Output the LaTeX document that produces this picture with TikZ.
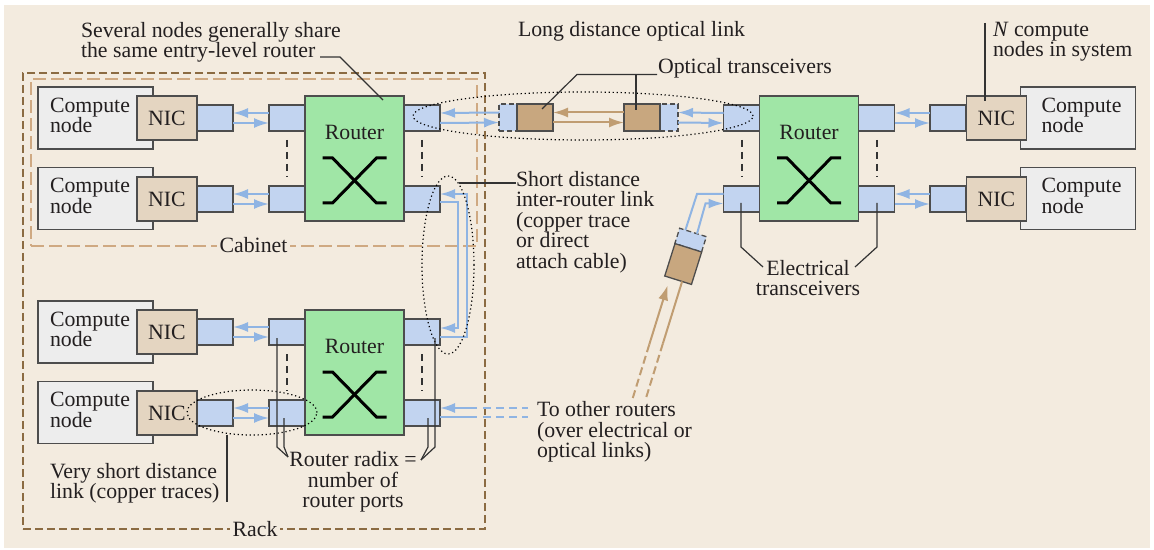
\documentclass[tikz,border=0pt]{standalone}
\usepackage{fontspec}
\setmainfont{Liberation Serif}
\usetikzlibrary{shapes.geometric,arrows.meta,calc}
\definecolor{bgc}{HTML}{F3EBDF}
\definecolor{cgray}{HTML}{EDEDED}
\definecolor{nicc}{HTML}{E4D5C1}
\definecolor{portc}{HTML}{C2D4F0}
\definecolor{routc}{HTML}{A0E6A6}
\definecolor{brownc}{HTML}{C8A77F}
\definecolor{arrb}{HTML}{8FB4E3}
\definecolor{arrbr}{HTML}{C09D72}
\definecolor{rackc}{HTML}{8B6B42}
\definecolor{cabc}{HTML}{CFA982}
\definecolor{boxline}{HTML}{4D4D4D}
\definecolor{txtc}{HTML}{231F20}
\definecolor{leadc}{HTML}{333333}
\newcommand\bidir[3]{%
  \draw[#3] ($(#2.west)+(0,-5)$) -- ($(#1.east)+(0,-5)$);
  \draw[#3] ($(#1.east)+(0,5)$) -- ($(#2.west)+(0,5)$);}
\newcommand\xcross[1]{%
  \draw[xc] ($(#1.center)+(-32,-0.5)$) -- ++(10,0) -- ++(44,45) -- ++(10,0);
  \draw[xc] ($(#1.center)+(-32,44.5)$) -- ++(10,0) -- ++(44,-45) -- ++(10,0);}
\begin{document}
\begin{tikzpicture}[x=0.5pt,y=-0.5pt,
  font=\fontsize{10.9pt}{10.2pt}\selectfont,
  every node/.style={text=txtc},
  box/.style={draw=boxline, line width=0.65pt, inner sep=0pt, outer sep=0pt},
  compute/.style={box, fill=cgray, minimum width=57.5pt, minimum height=31pt},
  nic/.style={box, fill=nicc, minimum width=30pt, minimum height=22pt},
  port/.style={box, fill=portc, minimum width=18pt, minimum height=13pt},
  router/.style={box, fill=routc, minimum width=49.5pt, minimum height=62.5pt},
  obox/.style={box, fill=brownc, minimum width=18pt, minimum height=13.5pt},
  oblue/.style={box, fill=portc, dashed, dash pattern=on 2.5pt off 1.5pt, minimum width=9pt, minimum height=13.5pt},
  txt/.style={inner sep=0pt, outer sep=0pt},
  tip/.style={-{Latex[length=7.5pt,width=5pt]}},
  bline/.style={draw=arrb, line width=1pt},
  barrow/.style={bline, tip},
  brline/.style={draw=arrbr, line width=1pt},
  brarrow/.style={brline, tip},
  xc/.style={draw=black, line width=1.5pt},
  vdash/.style={draw=leadc, line width=1pt, dash pattern=on 3.5pt off 2.5pt},
  leader/.style={draw=leadc, line width=0.6pt},
  dotell/.style={draw=black, ellipse, line width=0.6pt, dash pattern=on 0.6pt off 1.4pt, inner sep=0pt},
  rackst/.style={draw=rackc, line width=0.75pt, dash pattern=on 4pt off 2pt, inner sep=0pt},
  cabst/.style={draw=cabc, line width=0.9pt, dash pattern=on 6.5pt off 2.5pt, inner sep=0pt},
  dlabel/.style={txt, fill=bgc, inner xsep=1.5pt}
]
\useasboundingbox (0,0) rectangle (1154,550);
\fill[white] (0,0) rectangle (1154,550);
\fill[bgc] (4,5) rectangle (1150,548);

% rack and cabinet
\node[rackst, minimum width=231pt, minimum height=228pt] (rack) at (254,301) {};
\node[cabst, minimum width=223pt, minimum height=83.35pt] (cab) at (254,162.35) {};
\node[dlabel] (cabt) at (253.5,245) {Cabinet};
\node[dlabel] (rackt) at (255,529) {Rack};

% ---------- upper left group ----------
\node[compute] (c1) at (95.5,118) {};
\node[nic] (n1) at (167,118) {NIC};
\node[port] (p1) at (215,118) {};
\node[router] (R1) at (354.5,158.5) {};
\node[port] (r1a) at (287,118) {};
\node[port] (r1c) at (422,118) {};
\node[port] (r1b) at (287,199) {};
\node[port] (r1d) at (422,199) {};
\node[compute] (c2) at (95.5,198.5) {};
\node[nic] (n2) at (167,199) {NIC};
\node[port] (p2) at (215,199) {};
\node[txt, anchor=west, align=left] (c1t) at ($(c1.west)+(12,-2.5)$) {Compute\\node};
\node[txt, anchor=west, align=left] (c2t) at ($(c2.west)+(12,-2.5)$) {Compute\\node};
\node[txt] (R1t) at ($(R1.center)+(0,-26.5)$) {Router};
\xcross{R1}

% ---------- lower left group ----------
\node[compute] (c3) at (95.5,332) {};
\node[nic] (n3) at (167,332) {NIC};
\node[port] (p3) at (215,332) {};
\node[router] (R3) at (354.5,372.5) {};
\node[port] (r3a) at (287,332) {};
\node[port] (r3c) at (422,332) {};
\node[port] (r3b) at (287,413) {};
\node[port] (r3d) at (422,413) {};
\node[compute] (c4) at (95.5,412.5) {};
\node[nic] (n4) at (167,413) {NIC};
\node[port] (p4) at (215,413) {};
\node[txt, anchor=west, align=left] (c3t) at ($(c3.west)+(12,-2.5)$) {Compute\\node};
\node[txt, anchor=west, align=left] (c4t) at ($(c4.west)+(12,-2.5)$) {Compute\\node};
\node[txt] (R3t) at ($(R3.center)+(0,-26.5)$) {Router};
\xcross{R3}

% ---------- right group ----------
\node[router] (RR) at (809,158.5) {};
\node[port] (rra) at (741.5,118) {};
\node[port] (rrb) at (741.5,199) {};
\node[port] (rrc) at (876.5,118) {};
\node[port] (rrd) at (876.5,199) {};
\node[port] (q1) at (948,118) {};
\node[port] (q2) at (948,199) {};
\node[compute] (c5) at (1078,118) {};
\node[compute] (c6) at (1078,198.5) {};
\node[nic] (m1) at (996.5,118) {NIC};
\node[nic] (m2) at (996.5,199) {NIC};
\node[txt, anchor=west, align=left] (c5t) at ($(c5.west)+(21,-2.5)$) {Compute\\node};
\node[txt, anchor=west, align=left] (c6t) at ($(c6.west)+(21,-2.5)$) {Compute\\node};
\node[txt] (RRt) at ($(RR.center)+(0,-26.5)$) {Router};
\xcross{RR}

% ---------- optical link ----------
\node[oblue] (o1b) at (508,117.5) {};
\node[obox] (o1) at (535,117.5) {};
\node[oblue] (o2b) at (669,117.5) {};
\node[obox] (o2) at (642,117.5) {};

% tilted optical transceiver
\node[box, fill=portc, dashed, dash pattern=on 2.5pt off 1.5pt, minimum width=14pt, minimum height=8pt, rotate=-17.5] (otb) at (690.6,240.1) {};
\node[box, fill=brownc, minimum width=14pt, minimum height=17pt, rotate=-17.5] (ot) at (683.2,264.0) {};

% ---------- arrows ----------
\bidir{p1}{r1a}{barrow}
\bidir{p2}{r1b}{barrow}
\bidir{p3}{r3a}{barrow}
\bidir{p4}{r3b}{barrow}
\bidir{r1c}{o1b}{barrow}
\bidir{o1}{o2}{brarrow}
\bidir{o2b}{rra}{barrow}
\bidir{rrc}{q1}{barrow}
\bidir{rrd}{q2}{barrow}

% inter-router link
\draw[barrow] ($(r3c.east)+(0,5)$) -- ++(27,0) |- ($(r1d.east)+(0,-5)$);
\draw[barrow] ($(r1d.east)+(0,3.5)$) -- ++(18,0) |- ($(r3c.east)+(0,-4)$);

% to other routers
\coordinate (tora) at (477,408);
\coordinate (torb) at (477,417);
\coordinate (tora2) at (528,408);
\coordinate (torb2) at (528,417);
\draw[barrow] (tora) -- ($(r3d.east)+(0,-5)$);
\draw[bline] ($(r3d.east)+(0,4)$) -- (torb);
\draw[bline, dash pattern=on 4pt off 2.5pt] ($(tora)+(6,0)$) -- (tora2);
\draw[bline, dash pattern=on 4pt off 2.5pt] ($(torb)+(6,0)$) -- (torb2);

% tilted transceiver links
\draw[bline] ($(otb.north)!0.57!(otb.north west)$) -- (697,194) -- ($(rrb.west)+(0,-5)$);
\draw[barrow] ($(otb.north)!0.3!(otb.north east)$) -- (705.5,203.5) -- ($(rrb.west)+(0,4.5)$);
\coordinate (bA) at ($(ot.south)!0.6!(ot.south west)$);
\coordinate (tipA) at ($(bA)+(-2.4,7.6)$);
\coordinate (bB) at ($(ot.south)!0.3!(ot.south east)$);
\draw[brarrow] ($(tipA)+(-18.4,59.2)$) -- (tipA);
\draw[brline, dash pattern=on 4pt off 2pt] ($(tipA)+(-34.9,112.7)$) -- ($(tipA)+(-18.4,59.2)$);
\draw[brline] (bB) -- ($(bB)+(-19.2,62)$);
\draw[brline, dash pattern=on 4pt off 2pt] ($(bB)+(-19.2,62)$) -- ($(bB)+(-35.8,115.6)$);

% dashed port separators
\draw[vdash] ($(r1a.south)+(0,9)$) -- ($(r1b.north)+(0,-9)$);
\draw[vdash] ($(r1c.south)+(0,9)$) -- ($(r1d.north)+(0,-9)$);
\draw[vdash] ($(r3a.south)+(0,9)$) -- ($(r3b.north)+(0,-9)$);
\draw[vdash] ($(r3c.south)+(0,9)$) -- ($(r3d.north)+(0,-9)$);
\draw[vdash] ($(rra.south)+(0,9)$) -- ($(rrb.north)+(0,-9)$);
\draw[vdash] ($(rrc.south)+(0,9)$) -- ($(rrd.north)+(0,-9)$);

% dotted ellipses
\node[dotell, minimum width=170pt, minimum height=24pt] (e1) at (583,116) {};
\node[dotell, minimum width=26pt, minimum height=89pt] (e2) at (448,265) {};
\node[dotell, minimum width=65pt, minimum height=22.5pt] (e3) at (252,412.5) {};

% ---------- texts ----------
\node[txt, anchor=west, align=left] (tsev) at (81,42) {Several nodes generally share\\the same entry-level router};
\node[txt, anchor=west] (tlong) at (518,31) {Long distance optical link};
\node[txt, anchor=west, align=left] (tN) at (993,42) {\textit{N} compute\\nodes in system};
\node[txt, anchor=west] (topt) at (658,68) {Optical transceivers};
\node[txt, anchor=west, align=left] (tshort) at (516,222) {Short distance\\inter-router link\\(copper trace\\or direct\\attach cable)};
\node[txt, anchor=west, align=left] (tother) at (537,432) {To other routers\\(over electrical or\\optical links)};
\node[txt, align=center] (telec) at (808,278) {Electrical\\transceivers};
\node[txt, align=center] (tradix) at (353,482) {Router radix =\\number of\\router ports};
\node[txt, anchor=west, align=left] (tvery) at (50,483) {Very short distance\\link (copper traces)};

% ---------- leaders ----------
\draw[leader] (320,57) -- (340,57) -- ($(R1.north west)+(78,4)$);
\draw[leader] (657,74.5) -- (577,74.5) -- ($(o1.center)+(7,-8.5)$);
\draw[leader] (636,74.5) -- ($(o2.center)+(-6,-7.5)$);
\draw[leader] (985,23) -- ($(m1.north)+(-11.5,5)$);
\coordinate (sl) at (459,183);
\draw[leader] (sl) -- (tshort.west |- sl) ++(-4,0);
\draw[leader] (741,203) -- (741,247) -- (763,267);
\draw[leader] (877,203) -- (877,247) -- (855,267);
\draw[leader] (277,338) -- (277,447) -- (288,457);
\draw[leader] (284,418) -- (284,447) -- (288,457);
\draw[leader] (435,338) -- (435,447) -- (421,460);
\draw[leader] (428,418) -- (428,447) -- (421,460);
\draw[leader] (e3.south) ++(-25,-1) -- (227,502);
\end{tikzpicture}
\end{document}
